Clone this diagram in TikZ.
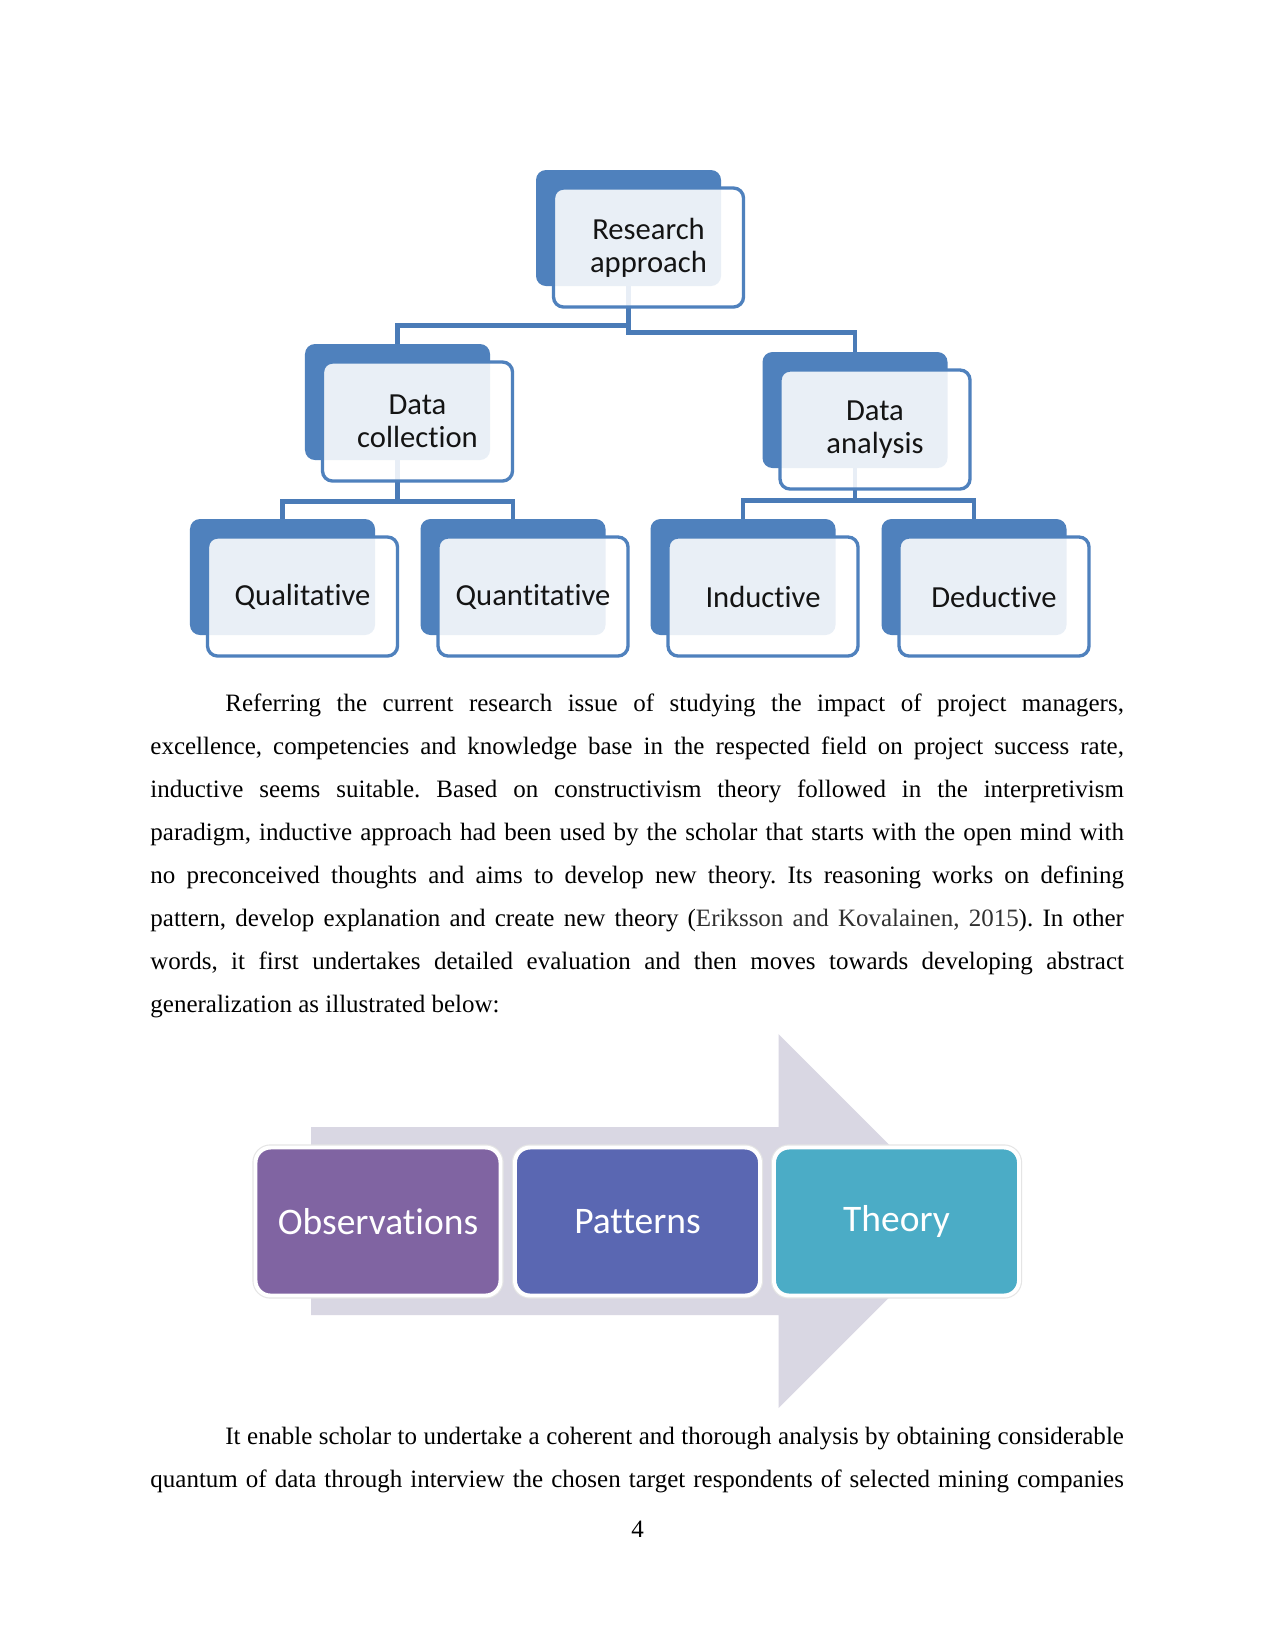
\documentclass[tikz,border=0pt]{standalone}
\usepackage{fontspec}
\setmainfont{Liberation Serif}
\newfontfamily\boxfont[Ligatures=NoCommon]{Carlito}
\frenchspacing
\pgfdeclarelayer{bg}
\pgfsetlayers{bg,main}
\definecolor{smblue}{HTML}{4F81BD}
\definecolor{connblue}{HTML}{4A7BB7}
\definecolor{boxtext}{HTML}{141414}
\definecolor{arrowcol}{HTML}{D9D7E3}
\definecolor{obscol}{HTML}{8064A2}
\definecolor{patcol}{HTML}{5A67B2}
\definecolor{theocol}{HTML}{4BACC6}
\definecolor{citecol}{HTML}{303030}
\newlength\txtfullw \setlength\txtfullw{467.28bp}
\newlength\txtindw \setlength\txtindw{431.28bp}
\tikzset{
  backbox/.style={fill=smblue, rounded corners=4.8bp, minimum width=88.8bp, minimum height=55.68bp, inner sep=0pt},
  frontbox/.style={draw=smblue, line width=1.6bp, fill=white, fill opacity=0.88, text opacity=1,
    rounded corners=4.8bp, minimum width=91.2bp, minimum height=57.12bp, inner sep=0pt,
    align=center, text=boxtext, font=\boxfont\fontsize{14.7bp}{16bp}\selectfont},
  conn/.style={draw=connblue, line width=2bp},
  stepbox/.style={rounded corners=7.2bp, minimum width=117.6bp, minimum height=71.04bp, inner sep=0pt,
    draw=white, line width=1.9bp, preaction={draw=black!10, line width=3bp},
    text=white, font=\boxfont\fontsize{18bp}{20bp}\selectfont},
  bodyline/.style={anchor=base west, inner sep=0pt, font=\fontsize{12bp}{14bp}\selectfont}
}
\begin{document}
\begin{tikzpicture}[x=0.48bp, y=-0.48bp]
\useasboundingbox (0,0) rectangle (1275,1650);
\begin{pgfonlayer}{bg}
\fill[white] (0,0) rectangle (1275,1650);
\end{pgfonlayer}

% ---- hierarchy: back boxes
\node[backbox] (raB) at (628.5,228) {};
\node[backbox] (dcB) at (397.5,402) {};
\node[backbox] (daB) at (855,410) {};
\node[backbox] (qlB) at (282.5,577) {};
\node[backbox] (qnB) at (513,577) {};
\node[backbox] (inB) at (743,577) {};
\node[backbox] (deB) at (974,577) {};
% ---- front boxes
\node[frontbox] (raF) at (648.5,247.5) {Research\\approach};
\node[frontbox] (dcF) at (417.5,421.5) {Data\\collection};
\node[frontbox] (daF) at (875,429.5) {Data\\analysis};
\node[frontbox] (qlF) at (302.5,596.5) {Qualitative};
\node[frontbox] (qnF) at (533,596.5) {Quantitative};
\node[frontbox] (inF) at (763,596.5) {Inductive};
\node[frontbox] (deF) at (994,596.5) {Deductive};

\begin{pgfonlayer}{bg}
\draw[conn] (raB.south) -- ++(0,39) -| (dcB.north);
\draw[conn] (raB.south) -- ++(0,46) -| (daB.north);
\draw[conn] (dcB.south) -- ++(0,41) -| (qlB.north);
\draw[conn] (dcB.south) -- ++(0,41) -| (qnB.north);
\draw[conn] (daB.south) -- ++(0,32) -| (inB.north);
\draw[conn] (daB.south) -- ++(0,32) -| (deB.north);
\end{pgfonlayer}

% ---- paragraph 1
\node[bodyline] (l1) at (225,711) {\makebox[\txtindw][s]{Referring the current research issue of studying the impact of project managers,}};
\node[bodyline] (l2) at (150,754.1) {\makebox[\txtfullw][s]{excellence, competencies and knowledge base in the respected field on project success rate,}};
\node[bodyline] (l3) at (150,797.2) {\makebox[\txtfullw][s]{inductive seems suitable. Based on constructivism theory followed in the interpretivism}};
\node[bodyline] (l4) at (150,840.3) {\makebox[\txtfullw][s]{paradigm, inductive approach had been used by the scholar that starts with the open mind with}};
\node[bodyline] (l5) at (150,883.4) {\makebox[\txtfullw][s]{no preconceived thoughts and aims to develop new theory. Its reasoning works on defining}};
\node[bodyline] (l6) at (150,926.5) {\makebox[\txtfullw][s]{pattern, develop explanation and create new theory ({\color{citecol}Eriksson and Kovalainen, 2015}). In other}};
\node[bodyline] (l7) at (150,969.6) {\makebox[\txtfullw][s]{words, it first undertakes detailed evaluation and then moves towards developing abstract}};
\node[bodyline] (l8) at (150,1012.7) {generalization as illustrated below:};

% ---- arrow diagram
\fill[arrowcol] (311,1127) -- (778.5,1127) -- (778.5,1034) -- (965.5,1221) -- (778.5,1408) -- (778.5,1315) -- (311,1315) -- cycle;
\node[stepbox, fill=obscol] (obs) at (378,1221.5) {Observations};
\node[stepbox, fill=patcol] (pat) at (637.5,1221.5) {Patterns};
\node[stepbox, fill=theocol] (theo) at (896.5,1221.5) {Theory};

% ---- paragraph 2
\node[bodyline] (m1) at (225,1444) {\makebox[\txtindw][s]{It enable scholar to undertake a coherent and thorough analysis by obtaining considerable}};
\node[bodyline] (m2) at (150,1487) {\makebox[\txtfullw][s]{quantum of data through interview the chosen target respondents of selected mining companies}};

% ---- page number
\node[anchor=base, inner sep=0pt, font=\fontsize{12bp}{14bp}\selectfont] (pg) at (637.5,1537) {4};
\end{tikzpicture}
\end{document}
